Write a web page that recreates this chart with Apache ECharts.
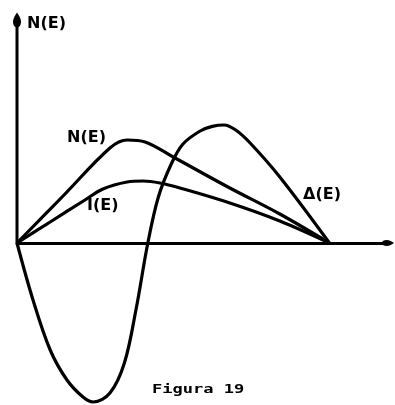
<!DOCTYPE html>
<html>
<head>
<meta charset="utf-8">
<script src="https://cdn.jsdelivr.net/npm/echarts@6/dist/echarts.min.js"></script>
<style>
  html, body { margin: 0; padding: 0; background: #fff; }
  #chart { width: 395px; height: 405px; }
</style>
</head>
<body>
<div id="chart"></div>
<script>
// N(E): energy samples and values (arbitrary units)
const nEnergy = [0, 1.18, 2.38, 2.82, 3.28, 4.0, 5.45, 6.73, 8];
const nValues = [0, 2.35, 4.75, 5.15, 5.05, 4.3, 2.75, 1.45, 0];
// I(E)
const iEnergy = [0, 0.85, 1.74, 2.2, 2.82, 3.23, 3.66, 4.17, 5.45, 6.73, 8];
const iValues = [0, 1.05, 2.15, 2.7, 3.05, 3.1, 3.0, 2.75, 2.0, 1.1, 0];
// Δ(E)
const dEnergy = [0, 0.41, 0.85, 1.28, 1.69, 1.95, 2.38, 2.75, 3.05, 3.35, 3.62, 3.95, 4.25, 4.69, 5.0, 5.3, 5.6, 5.97, 6.73, 8];
const dValues = [0, -2.85, -5.35, -6.85, -7.7, -7.95, -7.5, -6.0, -3.3, 0, 2.3, 3.95, 4.95, 5.6, 5.83, 5.9, 5.65, 5.0, 3.3, 0];

const yAxisTop = 11.15;
const curveLabels = ['N(E)', 'I(E)', 'Δ(E)'];
const axisLabelText = 'N(E)';
const caption = 'Figura 19';

const pairs = (xs, ys) => xs.map((x, i) => [x, ys[i]]);
const ink = '#000';
// filled teardrop used for the axis arrow heads
const arrowHead = 'path://M5,0 C7,3 10,8 10,12 C10,17 8,20 5,20 C2,20 0,17 0,12 C0,8 3,3 5,0 Z';

const curve = (name, xs, ys) => ({
  name,
  type: 'line',
  data: pairs(xs, ys),
  smooth: 0.35,
  symbol: 'none',
  lineStyle: { color: ink, width: 3.2 },
  silent: true,
  z: 3
});

const chart = echarts.init(document.getElementById('chart'), null, { renderer: 'canvas' });

const labelFont = 'bold 16px "DejaVu Sans", sans-serif';

chart.setOption({
  animation: false,
  backgroundColor: '#fff',
  grid: { left: 17, right: 7, top: 13, bottom: 2 },
  xAxis: {
    type: 'value',
    min: 0,
    max: 9.5,
    axisLine: {
      show: true,
      onZero: true,
      symbol: ['none', arrowHead],
      symbolSize: [9, 12],
      lineStyle: { color: ink, width: 3 }
    },
    axisTick: { show: false },
    axisLabel: { show: false },
    splitLine: { show: false }
  },
  yAxis: {
    type: 'value',
    min: -8,
    max: 11.5,
    axisLine: { show: false },
    axisTick: { show: false },
    axisLabel: { show: false },
    splitLine: { show: false }
  },
  series: [
    {
      name: 'axis-y',
      type: 'line',
      data: [
        { value: [0, 0], symbol: 'none' },
        { value: [0, yAxisTop], symbol: arrowHead, symbolSize: [8, 15] }
      ],
      lineStyle: { color: ink, width: 3 },
      itemStyle: { color: ink },
      silent: true,
      z: 2
    },
    curve(curveLabels[0], nEnergy, nValues),
    curve(curveLabels[1], iEnergy, iValues),
    curve(curveLabels[2], dEnergy, dValues)
  ],
  graphic: [
    { type: 'text', left: 27, top: 16, style: { text: axisLabelText, font: labelFont, fill: ink } },
    { type: 'text', left: 67, top: 130, style: { text: curveLabels[0], font: labelFont, fill: ink } },
    { type: 'text', left: 87, top: 198, style: { text: curveLabels[1], font: labelFont, fill: ink } },
    { type: 'text', left: 303, top: 187, style: { text: curveLabels[2], font: labelFont, fill: ink } },
    {
      type: 'text', x: 152, y: 384, scaleX: 1.42,
      style: { text: caption, font: 'bold 12px "DejaVu Sans Mono", monospace', fill: ink }
    }
  ]
});
</script>
</body>
</html>
